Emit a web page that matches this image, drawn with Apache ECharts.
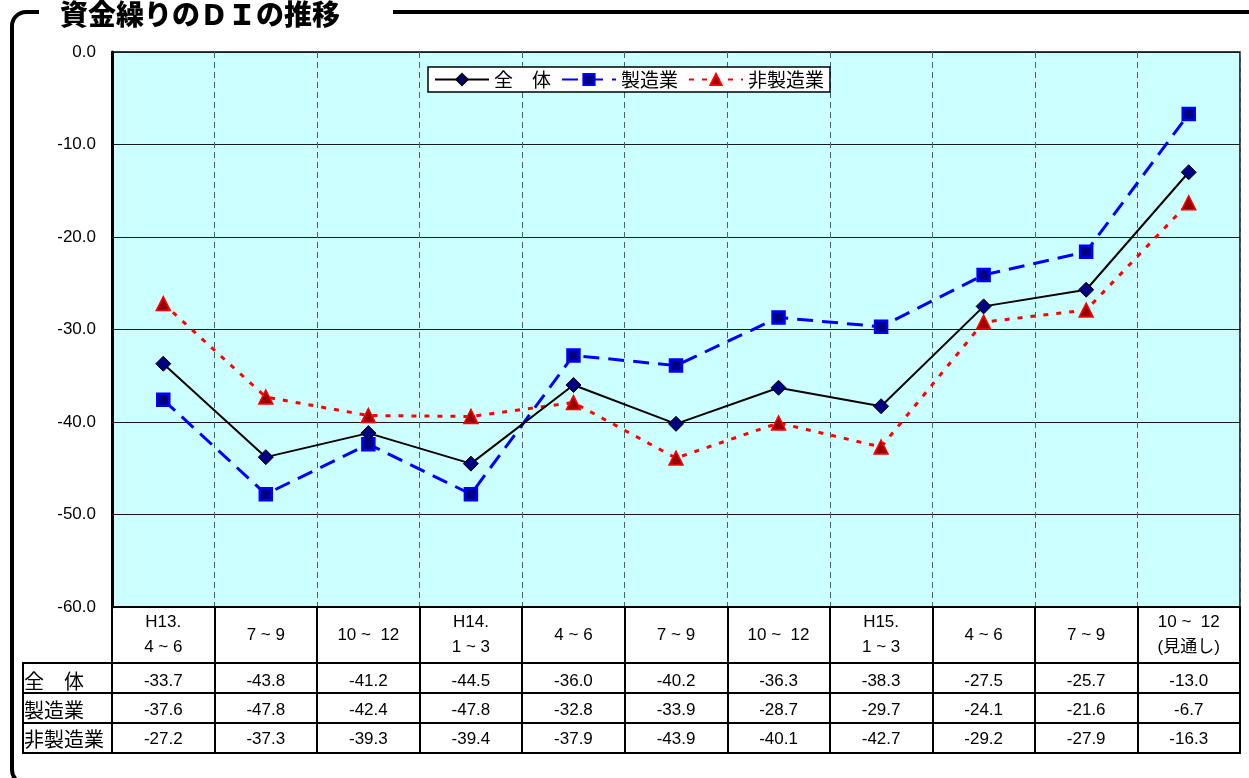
<!DOCTYPE html>
<html>
<head>
<meta charset="utf-8">
<script src="https://cdn.jsdelivr.net/npm/echarts@6/dist/echarts.min.js"></script>
<style>
  html, body { margin: 0; padding: 0; background: #ffffff; }
  #chart { width: 1249px; height: 778px; }
</style>
</head>
<body>
<div id="chart"></div>
<script>
// Quarter labels (header row of the table)
const categories = ['H13.\n4 ~ 6', '7 ~ 9', '10 ~  12', 'H14.\n1 ~ 3', '4 ~ 6', '7 ~ 9', '10 ~  12', 'H15.\n1 ~ 3', '4 ~ 6', '7 ~ 9', '10 ~  12\n(見通し)'];
const seriesNames = ['全　体', '製造業', '非製造業'];
const totalDI = [-33.7, -43.8, -41.2, -44.5, -36.0, -40.2, -36.3, -38.3, -27.5, -25.7, -13.0];
const manufacturingDI = [-37.6, -47.8, -42.4, -47.8, -32.8, -33.9, -28.7, -29.7, -24.1, -21.6, -6.7];
const nonManufacturingDI = [-27.2, -37.3, -39.3, -39.4, -37.9, -43.9, -40.1, -42.7, -29.2, -27.9, -16.3];
const yTicks = { min: -60, max: 0, interval: 10 };

const FONT = 'Arial, "Liberation Sans", "Noto Sans CJK JP", sans-serif';
const JP = '"Noto Sans CJK JP", sans-serif';

const chart = echarts.init(document.getElementById('chart'));

const baseOption = {
  animation: false,
  backgroundColor: '#ffffff',
  grid: {
    left: 112, right: 9, top: 52, bottom: 171,
    show: true, backgroundColor: '#CCFFFF', borderColor: '#000', borderWidth: 1.5
  },
  legend: {
    left: 428, top: 67,
    padding: [3, 6, 3, 6],
    backgroundColor: '#ffffff', borderColor: '#000', borderWidth: 1.5,
    itemWidth: 54, itemHeight: 14, itemGap: 10,
    textStyle: { fontFamily: JP, fontSize: 19, color: '#000' },
    data: seriesNames
  },
  xAxis: {
    type: 'category',
    data: categories,
    boundaryGap: true,
    axisLine: { show: true, onZero: false, lineStyle: { color: '#000', width: 2 } },
    axisTick: { show: true, length: 146, lineStyle: { color: '#000', width: 2 } },
    axisLabel: {
      margin: 28, verticalAlign: 'middle', lineHeight: 25,
      fontFamily: FONT, fontSize: 17, color: '#000', interval: 0
    },
    splitLine: { show: true, lineStyle: { color: '#4f6262', type: [6, 4], width: 1 } }
  },
  yAxis: {
    type: 'value',
    min: yTicks.min, max: yTicks.max, interval: yTicks.interval,
    axisLine: { show: true, lineStyle: { color: '#000', width: 3 } },
    axisTick: { show: false },
    axisLabel: {
      margin: 16, fontFamily: FONT, fontSize: 17, color: '#000',
      formatter: v => v.toFixed(1)
    },
    splitLine: { show: true, lineStyle: { color: '#1a1a1a', width: 1 } }
  },
  series: [
    {
      name: seriesNames[0], type: 'line', data: totalDI, z: 4,
      symbol: 'diamond', symbolSize: 15,
      lineStyle: { color: '#000', width: 2 },
      itemStyle: { color: '#000080', borderColor: '#000', borderWidth: 1 }
    },
    {
      name: seriesNames[1], type: 'line', data: manufacturingDI, z: 3,
      symbol: 'rect', symbolSize: 12,
      lineStyle: { color: '#0000FF', width: 3, type: [16, 9] },
      itemStyle: { color: '#000080', borderColor: '#0000FF', borderWidth: 2.5 }
    },
    {
      name: seriesNames[2], type: 'line', data: nonManufacturingDI, z: 2,
      symbol: 'triangle', symbolSize: 14,
      lineStyle: { color: '#FF0000', width: 3, type: [5, 8] },
      itemStyle: { color: '#990000', borderColor: '#FF0000', borderWidth: 1.5 }
    }
  ]
};
chart.setOption(baseOption);

// Data table under the plot, plus title and frame
const rows = [totalDI, manufacturingDI, nonManufacturingDI];
const rowLines = [663, 693, 723, 753];
const rowCenters = [681, 710, 739];
const els = [];

rowLines.forEach(y => {
  els.push({ type: 'line', shape: { x1: 22, y1: y, x2: 1241, y2: y }, style: { stroke: '#000', lineWidth: 2 } });
});
els.push({ type: 'line', shape: { x1: 23, y1: 663, x2: 23, y2: 753 }, style: { stroke: '#000', lineWidth: 2 } });

rows.forEach((vals, r) => {
  els.push({
    type: 'text', x: 24, y: rowCenters[r],
    style: { text: seriesNames[r], font: '20px ' + JP, fill: '#000', textAlign: 'left', textVerticalAlign: 'middle' }
  });
  vals.forEach((v, i) => {
    const x = chart.convertToPixel({ xAxisIndex: 0 }, i);
    els.push({
      type: 'text', x: x, y: rowCenters[r],
      style: { text: v.toFixed(1), font: '17px ' + FONT, fill: '#000', textAlign: 'center', textVerticalAlign: 'middle' }
    });
  });
});

// Rounded frame around the whole figure, opened where the title sits
els.push({
  type: 'rect', z: 1,
  shape: { x: 12, y: 12, width: 1300, height: 772, r: 14 },
  style: { stroke: '#000', lineWidth: 4, fill: null }
});
els.push({
  type: 'rect', z: 2,
  shape: { x: 39, y: 0, width: 354, height: 30 },
  style: { fill: '#ffffff', stroke: null }
});
els.push({
  type: 'text', x: 60, y: 14, z: 3,
  style: { text: '資金繰りのＤＩの推移', font: '900 28px ' + JP, fill: '#000', textAlign: 'left', textVerticalAlign: 'middle' }
});

chart.setOption({ graphic: { elements: els } });
</script>
</body>
</html>
